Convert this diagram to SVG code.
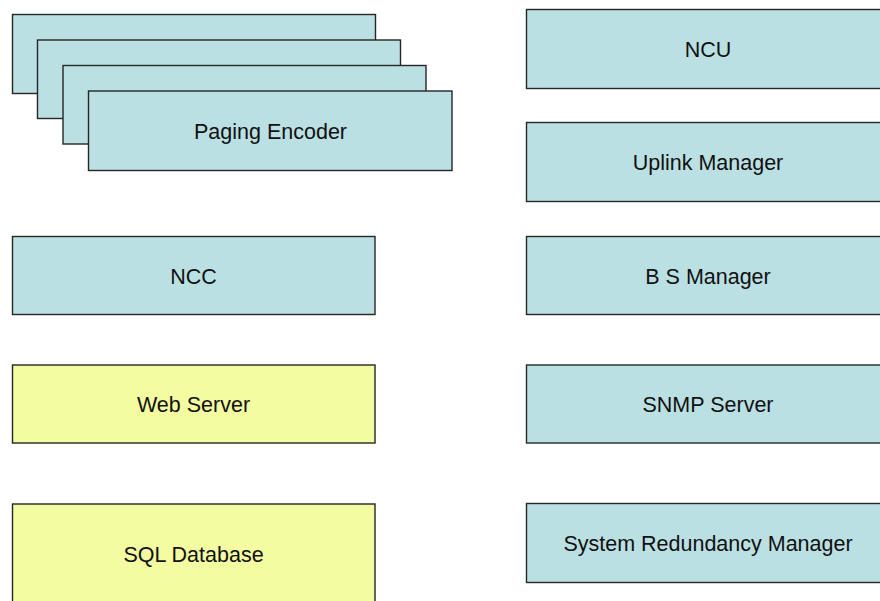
<svg xmlns="http://www.w3.org/2000/svg" width="880" height="601" viewBox="0 0 880 601">
<style>
.b{fill:#BBE0E3;stroke:#262626;stroke-width:1.4}
.y{fill:#F4FCA2;stroke:#262626;stroke-width:1.4}
text{font-family:"Liberation Sans",Arial,sans-serif;font-size:21.5px;fill:#111;text-anchor:middle}
</style>
<rect width="880" height="601" fill="#fff"/>
<g id="paging-encoder">
<rect class="b" x="12.5" y="14.5" width="363" height="79"/>
<rect class="b" x="37.5" y="40" width="363" height="78.5"/>
<rect class="b" x="63" y="65.5" width="363" height="78.5"/>
<rect class="b" x="88.5" y="91" width="363.5" height="79.5"/>
<text x="270.5" y="139">Paging Encoder</text>
</g>
<g id="ncc">
<rect class="b" x="12.5" y="236.5" width="362.5" height="78"/>
<text x="193.5" y="283.5">NCC</text>
</g>
<g id="web-server">
<rect class="y" x="12.5" y="365" width="362.5" height="78"/>
<text x="193.5" y="412">Web Server</text>
</g>
<g id="sql-database">
<rect class="y" x="12.5" y="504" width="362.5" height="120"/>
<text x="193.5" y="562">SQL Database</text>
</g>
<g id="ncu">
<rect class="b" x="526.5" y="9.5" width="363" height="79"/>
<text x="708" y="57">NCU</text>
</g>
<g id="uplink-manager">
<rect class="b" x="526.5" y="122.5" width="363" height="79"/>
<text x="708" y="170">Uplink Manager</text>
</g>
<g id="bs-manager">
<rect class="b" x="526.5" y="236.5" width="363" height="78"/>
<text x="708" y="283.5">B S Manager</text>
</g>
<g id="snmp-server">
<rect class="b" x="526.5" y="365" width="363" height="78"/>
<text x="708" y="412">SNMP Server</text>
</g>
<g id="system-redundancy-manager">
<rect class="b" x="526.5" y="503.5" width="363" height="79"/>
<text x="708" y="551">System Redundancy Manager</text>
</g>
<g id="connectors"/>
</svg>
